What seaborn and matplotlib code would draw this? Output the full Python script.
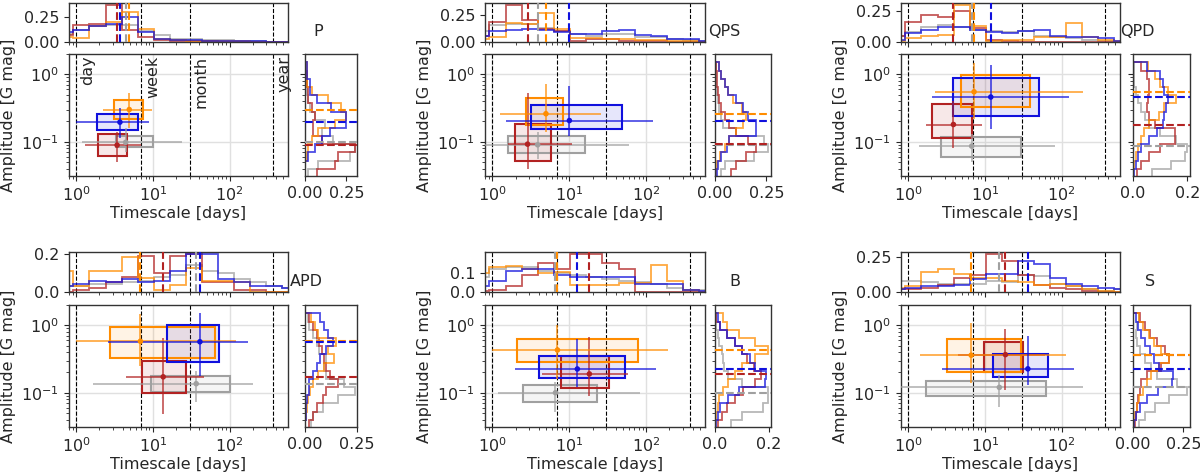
import numpy as np
import pandas as pd
import matplotlib
matplotlib.use("Agg")
import matplotlib.pyplot as plt
import seaborn as sns
from matplotlib.patches import Rectangle

# ---------------- data ----------------
panels = ["P", "QPS", "QPD", "APD", "B", "S"]
groups = ["orange", "blue", "red", "gray"]

# medians (timescale [days], amplitude [G mag]) per panel, groups in order above
med_t = [[4.9, 3.7, 3.4, 4.4],
         [4.96, 10.0, 2.86, 3.87],
         [7.2, 11.9, 3.87, 6.7],
         [6.85, 41.0, 13.6, 36.7],
         [7.0, 12.7, 18.2, 6.6],
         [6.6, 36.3, 18.5, 15.4]]
med_a = [[0.30, 0.195, 0.089, 0.098],
         [0.26, 0.206, 0.092, 0.090],
         [0.55, 0.46, 0.18, 0.086],
         [0.58, 0.57, 0.172, 0.136],
         [0.43, 0.225, 0.19, 0.10],
         [0.36, 0.226, 0.367, 0.12]]
# inter-quartile boxes
box_t = [[(3.1, 7.5), (1.86, 6.4), (1.93, 4.6), (3.3, 10.0)],
         [(2.72, 8.3), (3.16, 48.0), (1.96, 5.76), (1.6, 15.9)],
         [(4.93, 39.0), (3.84, 50.0), (2.06, 6.7), (2.65, 29.4)],
         [(2.78, 64.5), (15.1, 73.6), (7.2, 27.3), (9.3, 102.0)],
         [(2.1, 79.0), (4.0, 53.0), (7.7, 33.2), (2.5, 22.7)],
         [(3.2, 29.7), (12.9, 66.7), (9.75, 31.0), (1.71, 62.0)]]
box_a = [[(0.22, 0.41), (0.148, 0.255), (0.062, 0.13), (0.083, 0.123)],
         [(0.174, 0.44), (0.152, 0.347), (0.051, 0.182), (0.068, 0.12)],
         [(0.33, 0.97), (0.24, 0.89), (0.115, 0.366), (0.059, 0.117)],
         [(0.324, 0.94), (0.288, 1.02), (0.098, 0.298), (0.104, 0.176)],
         [(0.29, 0.62), (0.164, 0.346), (0.119, 0.346), (0.073, 0.131)],
         [(0.206, 0.63), (0.17, 0.38), (0.206, 0.56), (0.089, 0.15)]]
# error bar extents
err_t = [[(2.2, 9.8), (0.99, 8.9), (1.31, 6.9), (1.2, 23.6)],
         [(1.26, 25.9), (1.49, 122.0), (1.57, 10.7), (0.78, 60.0)],
         [(2.23, 188.0), (2.02, 126.0), (1.72, 9.1), (1.38, 83.0)],
         [(1.0, 123.0), (2.56, 172.0), (4.4, 46.4), (1.67, 204.0)],
         [(1.0, 192.0), (1.95, 134.0), (4.36, 57.6), (1.19, 83.6)],
         [(1.43, 114.0), (2.75, 147.0), (4.5, 60.0), (0.78, 193.0)]]
err_a = [[(0.16, 0.53), (0.113, 0.32), (0.05, 0.14), (0.07, 0.16)],
         [(0.138, 0.73), (0.12, 0.68), (0.039, 0.52), (0.055, 0.138)],
         [(0.22, 1.45), (0.156, 1.36), (0.08, 0.40), (0.05, 0.13)],
         [(0.25, 1.49), (0.18, 1.54), (0.049, 0.65), (0.073, 0.21)],
         [(0.16, 1.0), (0.121, 0.62), (0.089, 0.66), (0.052, 0.143)],
         [(0.138, 1.1), (0.13, 0.69), (0.11, 0.87), (0.062, 0.184)]]

# timescale histograms (fractions per log bin), groups: orange, blue, red, gray
hist_t_P = [[0.05, 0.04, 0.16, 0.20, 0.30, 0.13, 0.03, 0.02, 0.01, 0.01, 0.005, 0.005, 0.0, 0.0, 0.0],
            [0.10, 0.12, 0.16, 0.18, 0.25, 0.10, 0.03, 0.02, 0.02, 0.01, 0.01, 0.005, 0.005, 0.0, 0.0],
            [0.07, 0.17, 0.18, 0.37, 0.12, 0.05, 0.02, 0.01, 0.005, 0.005, 0.003, 0.0, 0.0, 0.0, 0.0],
            [0.08, 0.12, 0.16, 0.17, 0.17, 0.11, 0.07, 0.03, 0.03, 0.02, 0.015, 0.01, 0.005, 0.0, 0.0]]
hist_t_QPS = [[0.03, 0.05, 0.18, 0.17, 0.27, 0.12, 0.04, 0.04, 0.03, 0.03, 0.02, 0.02, 0.01, 0.01, 0.0],
              [0.06, 0.10, 0.11, 0.12, 0.11, 0.09, 0.08, 0.08, 0.10, 0.11, 0.07, 0.06, 0.03, 0.03, 0.01],
              [0.06, 0.19, 0.35, 0.21, 0.12, 0.10, 0.005, 0.03, 0.03, 0.01, 0.01, 0.005, 0.0, 0.0, 0.0],
              [0.10, 0.16, 0.17, 0.17, 0.13, 0.10, 0.08, 0.06, 0.08, 0.08, 0.05, 0.05, 0.03, 0.02, 0.01]]
hist_t_QPD = [[0.01, 0.03, 0.05, 0.06, 0.30, 0.13, 0.01, 0.02, 0.02, 0.04, 0.04, 0.15, 0.04, 0.02, 0.01],
              [0.02, 0.07, 0.10, 0.12, 0.12, 0.10, 0.08, 0.07, 0.09, 0.10, 0.05, 0.04, 0.04, 0.03, 0.01],
              [0.05, 0.16, 0.22, 0.20, 0.25, 0.115, 0.02, 0.005, 0.0, 0.0, 0.0, 0.0, 0.0, 0.0, 0.0],
              [0.05, 0.08, 0.12, 0.14, 0.12, 0.10, 0.09, 0.08, 0.09, 0.05, 0.04, 0.03, 0.02, 0.01, 0.0]]
hist_t_APD = [[0.11, 0.03, 0.11, 0.11, 0.185, 0.075, 0.01, 0.037, 0.125, 0.06, 0.06, 0.05, 0.0, 0.0, 0.0],
              [0.03, 0.04, 0.06, 0.05, 0.07, 0.05, 0.06, 0.11, 0.20, 0.20, 0.07, 0.05, 0.03, 0.03, 0.02],
              [0.0, 0.01, 0.02, 0.05, 0.08, 0.19, 0.10, 0.19, 0.20, 0.05, 0.05, 0.01, 0.01, 0.0, 0.0],
              [0.03, 0.03, 0.04, 0.04, 0.05, 0.06, 0.08, 0.09, 0.14, 0.11, 0.10, 0.07, 0.05, 0.03, 0.02]]
hist_t_B = [[0.10, 0.13, 0.135, 0.12, 0.10, 0.105, 0.035, 0.035, 0.035, 0.045, 0.045, 0.14, 0.06, 0.01, 0.0],
            [0.03, 0.06, 0.11, 0.12, 0.12, 0.09, 0.08, 0.08, 0.08, 0.08, 0.04, 0.04, 0.04, 0.01, 0.005],
            [0.005, 0.01, 0.03, 0.09, 0.15, 0.12, 0.20, 0.20, 0.15, 0.12, 0.0, 0.0, 0.0, 0.0, 0.0],
            [0.08, 0.12, 0.13, 0.13, 0.11, 0.10, 0.09, 0.08, 0.07, 0.06, 0.05, 0.04, 0.02, 0.01, 0.01]]
hist_t_S = [[0.03, 0.04, 0.14, 0.16, 0.13, 0.10, 0.10, 0.08, 0.07, 0.05, 0.06, 0.04, 0.02, 0.01, 0.0],
            [0.02, 0.03, 0.04, 0.04, 0.05, 0.09, 0.13, 0.13, 0.22, 0.20, 0.10, 0.06, 0.04, 0.03, 0.02],
            [0.02, 0.02, 0.03, 0.05, 0.10, 0.12, 0.27, 0.22, 0.12, 0.05, 0.03, 0.02, 0.01, 0.0, 0.0],
            [0.08, 0.08, 0.07, 0.06, 0.06, 0.06, 0.08, 0.07, 0.12, 0.11, 0.06, 0.04, 0.02, 0.01, 0.02]]

# amplitude histograms (fractions per log bin, low -> high amplitude)
hist_a_P = [[0.0, 0.0, 0.01, 0.02, 0.04, 0.08, 0.18, 0.25, 0.22, 0.14, 0.04, 0.01, 0.01, 0.01],
            [0.0, 0.0, 0.02, 0.06, 0.10, 0.15, 0.25, 0.25, 0.16, 0.07, 0.03, 0.03, 0.01, 0.01],
            [0.07, 0.18, 0.20, 0.30, 0.10, 0.05, 0.05, 0.06, 0.04, 0.02, 0.02, 0.01, 0.01, 0.0],
            [0.02, 0.08, 0.27, 0.30, 0.17, 0.10, 0.12, 0.06, 0.03, 0.02, 0.01, 0.01, 0.01, 0.0]]
hist_a_QPS = [[0.005, 0.01, 0.025, 0.05, 0.07, 0.10, 0.135, 0.15, 0.13, 0.09, 0.065, 0.05, 0.03, 0.02],
              [0.01, 0.015, 0.03, 0.06, 0.07, 0.20, 0.20, 0.16, 0.135, 0.10, 0.065, 0.05, 0.03, 0.02],
              [0.08, 0.10, 0.15, 0.20, 0.16, 0.10, 0.07, 0.05, 0.03, 0.02, 0.015, 0.01, 0.01, 0.005],
              [0.03, 0.05, 0.19, 0.26, 0.24, 0.10, 0.04, 0.03, 0.02, 0.015, 0.01, 0.005, 0.005, 0.005]]
hist_a_QPD = [[0.0, 0.005, 0.01, 0.02, 0.03, 0.04, 0.06, 0.095, 0.115, 0.16, 0.13, 0.10, 0.08, 0.055],
              [0.005, 0.01, 0.02, 0.03, 0.06, 0.09, 0.11, 0.115, 0.12, 0.13, 0.115, 0.11, 0.10, 0.05],
              [0.015, 0.03, 0.06, 0.10, 0.155, 0.155, 0.08, 0.06, 0.05, 0.055, 0.06, 0.06, 0.05, 0.03],
              [0.07, 0.14, 0.19, 0.20, 0.16, 0.10, 0.06, 0.045, 0.03, 0.02, 0.01, 0.005, 0.005, 0.005]]
hist_a_APD = [[0.0, 0.005, 0.01, 0.015, 0.025, 0.04, 0.065, 0.09, 0.14, 0.11, 0.15, 0.065, 0.05, 0.03],
              [0.0, 0.005, 0.005, 0.01, 0.02, 0.02, 0.04, 0.06, 0.075, 0.10, 0.135, 0.11, 0.09, 0.075],
              [0.02, 0.04, 0.06, 0.085, 0.10, 0.16, 0.12, 0.10, 0.09, 0.08, 0.07, 0.06, 0.04, 0.02],
              [0.03, 0.04, 0.085, 0.16, 0.24, 0.19, 0.10, 0.09, 0.10, 0.07, 0.06, 0.04, 0.02, 0.015]]
hist_a_B = [[0.0, 0.005, 0.01, 0.015, 0.03, 0.05, 0.075, 0.10, 0.15, 0.198, 0.15, 0.09, 0.045, 0.03],
            [0.005, 0.01, 0.02, 0.05, 0.09, 0.185, 0.19, 0.15, 0.13, 0.10, 0.075, 0.045, 0.02, 0.01],
            [0.01, 0.025, 0.045, 0.075, 0.105, 0.15, 0.17, 0.145, 0.12, 0.10, 0.075, 0.045, 0.02, 0.005],
            [0.06, 0.10, 0.18, 0.198, 0.198, 0.10, 0.05, 0.035, 0.03, 0.025, 0.015, 0.01, 0.005, 0.005]]
hist_a_S = [[0.005, 0.01, 0.02, 0.03, 0.05, 0.07, 0.09, 0.13, 0.18, 0.14, 0.105, 0.08, 0.05, 0.03],
            [0.005, 0.015, 0.035, 0.07, 0.125, 0.195, 0.20, 0.13, 0.105, 0.085, 0.06, 0.04, 0.025, 0.015],
            [0.01, 0.015, 0.02, 0.025, 0.035, 0.04, 0.07, 0.14, 0.18, 0.16, 0.12, 0.085, 0.06, 0.035],
            [0.03, 0.06, 0.11, 0.18, 0.27, 0.22, 0.12, 0.09, 0.06, 0.035, 0.02, 0.015, 0.02, 0.03]]

hist_t = [hist_t_P, hist_t_QPS, hist_t_QPD, hist_t_APD, hist_t_B, hist_t_S]
hist_a = [hist_a_P, hist_a_QPS, hist_a_QPD, hist_a_APD, hist_a_B, hist_a_S]

top_ticks = [[0, 0.25], [0, 0.25], [0, 0.25], [0, 0.2], [0, 0.1], [0, 0.25]]
top_ticklabels = [["0.00", "0.25"], ["0.00", "0.25"], ["0.00", "0.25"], ["0.0", "0.2"], ["0.0", "0.1"], ["0.00", "0.25"]]
right_ticks = [[0, 0.25], [0, 0.25], [0, 0.2], [0, 0.25], [0, 0.2], [0, 0.25]]
right_ticklabels = [["0.00", "0.25"], ["0.00", "0.25"], ["0.0", "0.2"], ["0.00", "0.25"], ["0.0", "0.2"], ["0.00", "0.25"]]

ref_days = [1, 7, 30, 365]
ref_names = ["day", "week", "month", "year"]

# ---------------- style ----------------
sns.set_style("ticks")
plt.rcParams["font.family"] = ["DejaVu Sans"]
plt.rcParams["font.size"] = 11.5
plt.rcParams["xtick.major.size"] = 3.5
plt.rcParams["ytick.major.size"] = 3.5
plt.rcParams["xtick.minor.size"] = 2
plt.rcParams["ytick.minor.size"] = 2
plt.rcParams["axes.linewidth"] = 1.0
plt.rcParams["axes.edgecolor"] = "#333333"

colors = {"orange": "#ff8c00", "blue": "#1010dd", "red": "#b22222", "gray": "#a0a0a0"}
draw_order = [3, 2, 0, 1]  # gray, red, orange, blue

t_edges = 10 ** (-0.25 + 0.21 * np.arange(16))
a_edges = np.logspace(np.log10(0.03), np.log10(1.5), 15)

W, H = 1200, 474
fig = plt.figure(figsize=(W / 100, H / 100), dpi=100)

rows = [(3, 42, 54, 176), (252, 292, 305, 427)]
cols = [(69, 288, 305, 357), (485, 705, 715, 771), (901, 1120, 1133, 1190)]


def add_px(x0, x1, y0, y1, **kw):
    return fig.add_axes([x0 / W, 1 - y1 / H, (x1 - x0) / W, (y1 - y0) / H], **kw)


for p, name in enumerate(panels):
    r, c = divmod(p, 3)
    ty0, ty1, my0, my1 = rows[r]
    mx0, mx1, rx0, rx1 = cols[c]
    ax = add_px(mx0, mx1, my0, my1)
    ax.set_xscale("log")
    ax.set_yscale("log")
    axt = add_px(mx0, mx1, ty0, ty1, sharex=ax)
    axr = add_px(rx0, rx1, my0, my1, sharey=ax)

    ax.grid(True, which="major", color="#e0e0e0", lw=1.0)
    ax.set_axisbelow(True)
    for d in ref_days:
        ax.axvline(d, color="black", ls="--", lw=0.8, zorder=1.5)
        axt.axvline(d, color="black", ls="--", lw=0.8, zorder=1)

    for g in draw_order:
        col = colors[groups[g]]
        t0, t1 = box_t[p][g]
        a0, a1 = box_a[p][g]
        ax.add_patch(Rectangle((t0, a0), t1 - t0, a1 - a0, facecolor=col, alpha=0.1,
                               edgecolor="none", zorder=2))
        ax.add_patch(Rectangle((t0, a0), t1 - t0, a1 - a0, facecolor="none",
                               edgecolor=col, lw=1.5, zorder=2.1))
        mt, ma = med_t[p][g], med_a[p][g]
        el, eh = err_t[p][g]
        al, ah = err_a[p][g]
        ax.errorbar([mt], [ma], xerr=[[mt - el], [eh - mt]], yerr=[[ma - al], [ah - ma]],
                    fmt="none", ecolor=col, elinewidth=1.1, alpha=0.85, capsize=0, zorder=3)

        axt.stairs(hist_t[p][g], t_edges, color=col, lw=1.3, alpha=0.75, zorder=2)
        axt.axvline(mt, color=col, ls="--", lw=1.5, zorder=3)
        axr.stairs(hist_a[p][g], a_edges, orientation="horizontal", color=col, lw=1.3,
                   alpha=0.75, zorder=2)
        axr.axhline(ma, color=col, ls="--", lw=1.5, zorder=3)

    df = pd.DataFrame({"t": med_t[p], "a": med_a[p], "group": groups})
    sns.scatterplot(data=df, x="t", y="a", hue="group", palette=colors, s=16,
                    linewidth=0, legend=False, ax=ax, zorder=4)

    ax.set_xlim(0.8, 580)
    ax.set_ylim(0.031, 2.0)
    ax.set_xlabel("Timescale [days]", labelpad=1)
    ax.set_ylabel("Amplitude [G mag]")

    axt.tick_params(labelbottom=False)
    axt.set_yticks(top_ticks[p])
    axt.set_yticklabels(top_ticklabels[p])
    axt.set_xlabel("")
    axr.tick_params(labelleft=False)
    axr.set_xticks(right_ticks[p])
    axr.set_xticklabels(right_ticklabels[p])
    axr.set_ylabel("")

    axt.text(1 + 35 / (mx1 - mx0), 0.27, name, transform=axt.transAxes,
             ha="right", va="center")

    if p == 0:
        for d, lab in zip(ref_days, ref_names):
            ax.text(d * 1.12, 1.9, lab, rotation=90, ha="left", va="top")

fig.savefig("out.png", dpi=100)
